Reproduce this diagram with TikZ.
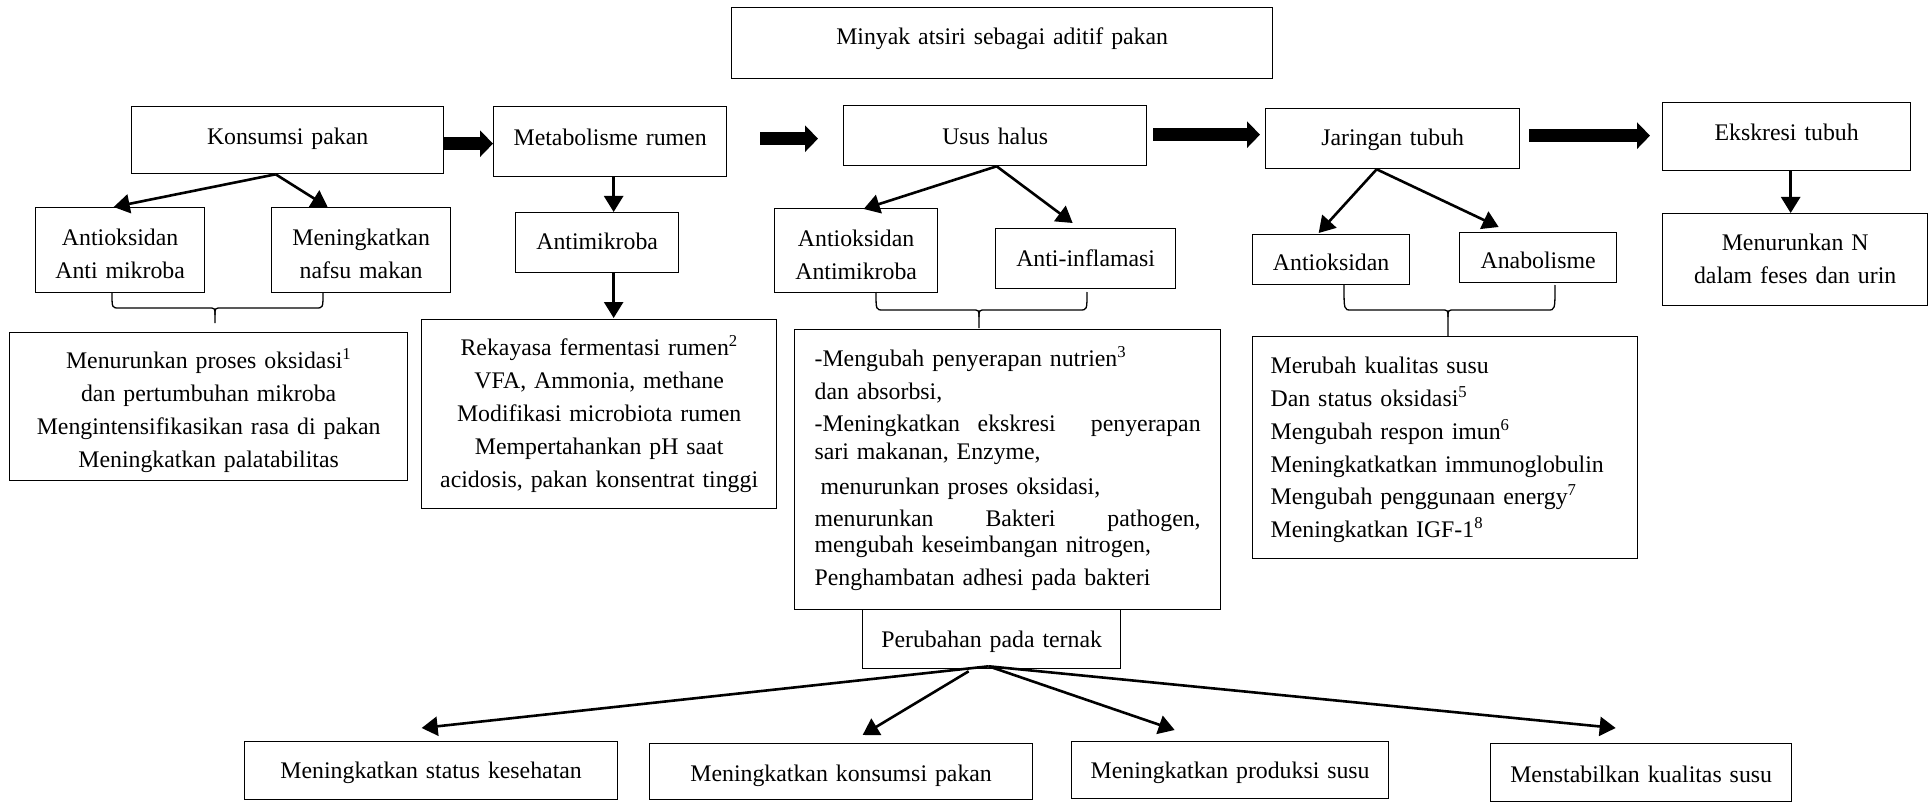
\documentclass[tikz,border=0pt]{standalone}
\usepackage{fontspec}
\setmainfont{Liberation Serif}
\usetikzlibrary{arrows.meta,calc}
\newcommand\supr[1]{\textsuperscript{#1}}
% name, x-left, y-top, text width, text height, text depth, extra options, text
\newcommand\mkbox[8]{\node[bx,text width=#4pt,text height=#5pt,text depth=#6pt,#7] (#1) at (#2,#3) {#8};}
% x1, x2, xtip, ytop, ybottom, ytip
\newcommand\mybrace[6]{%
  \draw[brc] (#1,#4) .. controls (#1,#5) .. (#1+7,#5) -- (#3-7,#5) .. controls (#3,#5) .. (#3,#5+7) -- (#3,#6);
  \draw[brc] (#2,#4) .. controls (#2,#5) .. (#2-7,#5) -- (#3+7,#5) .. controls (#3,#5) .. (#3,#5+7);}
\begin{document}
\begin{tikzpicture}[x=1pt,y=-1pt,
  every node/.style={font=\fontsize{23.8}{33}\selectfont},
  bx/.style={draw,line width=1.3pt,inner sep=0pt,anchor=north west,align=center},
  thin/.style={line width=2.6pt,-{Triangle[length=16pt,width=19pt]}},
  fat/.style={line width=12.5pt,-{Triangle[length=13pt,width=26pt]}},
  brc/.style={line width=1.3pt}]
\useasboundingbox (0,0) rectangle (1929,802);
\fill[white] (0,0) rectangle (1929,802);

% top row
\mkbox{minyak}{731}{7}{541}{37}{34}{}{Minyak atsiri sebagai aditif pakan}
\mkbox{kons}{131}{106}{312}{38}{29}{}{Konsumsi pakan}
\mkbox{metab}{493}{106}{233}{39}{31}{}{Metabolisme rumen}
\mkbox{usus}{843}{105}{303}{39}{21}{}{Usus halus}
\mkbox{jar}{1265}{108}{254}{37}{23}{}{Jaringan tubuh}
\mkbox{eks}{1662}{102}{248}{38}{30}{}{Ekskresi tubuh}

% second row
\mkbox{aa1}{35}{207}{169}{38}{47}{}{Antioksidan\\Anti mikroba}
\mkbox{nafsu}{271}{207}{179}{38}{47}{}{Meningkatkan\\nafsu makan}
\mkbox{antim}{515}{212}{163}{37}{23}{}{Antimikroba}
\mkbox{aa2}{774}{208}{163}{37.5}{46.5}{}{Antioksidan\\Antimikroba}
\mkbox{antiinf}{995}{228}{180}{38}{22}{}{Anti-inflamasi}
\mkbox{ant3}{1252}{234}{157}{36}{14}{}{Antioksidan}
\mkbox{anab}{1459}{232}{157}{36}{14}{}{Anabolisme}
\mkbox{menN}{1662}{213}{265}{37}{55}{}{Menurunkan N\\dalam feses dan urin}

% third row
\mkbox{menur}{9}{332}{398}{36}{112}{}{Menurunkan proses oksidasi\supr{1}\\dan pertumbuhan mikroba\\Mengintensifikasikan rasa di pakan\\Meningkatkan palatabilitas}
\mkbox{rekay}{421}{319}{355}{36}{153}{}{Rekayasa fermentasi rumen\supr{2}\\VFA, Ammonia, methane\\Modifikasi microbiota rumen\\Mempertahankan pH saat\\acidosis, pakan konsentrat tinggi}
\mkbox{usbig}{794}{329}{386}{36.5}{243.5}{align=left,inner xsep=20pt,font=\fontsize{23.8}{26.5}\selectfont}{%
-Mengubah penyerapan nutrien\supr{3}\\[7pt]
dan absorbsi,\\[5.5pt]
\makebox[386pt][l]{-Meningkatkan\hfill ekskresi\hfill\hfill penyerapan}\\[1pt]
sari makanan, Enzyme,\\[9pt]
\hspace*{6pt}menurunkan proses oksidasi,\\[5.5pt]
\makebox[386pt][l]{menurunkan\hfill Bakteri\hfill pathogen,}\\[-1pt]
mengubah keseimbangan nitrogen,\\[7pt]
Penghambatan adhesi pada bakteri}
\mkbox{jarbig}{1252}{336}{349}{37}{185}{align=left,inner xsep=18pt,font=\fontsize{23.8}{32.8}\selectfont}{%
Merubah kualitas susu\\Dan status oksidasi\supr{5}\\Mengubah respon imun\supr{6}\\Meningkatkatkan immunoglobulin\\Mengubah penggunaan energy\supr{7}\\Meningkatkan IGF-1\supr{8}}

% bottom
\mkbox{perub}{862}{609}{258}{38}{21}{}{Perubahan pada ternak}
\mkbox{status}{244}{741}{373}{37}{21}{}{Meningkatkan status kesehatan}
\mkbox{kons2}{649}{743}{383}{38}{18}{}{Meningkatkan konsumsi pakan}
\mkbox{prod}{1071}{741}{317}{37}{20}{}{Meningkatkan produksi susu}
\mkbox{menst}{1490}{743}{301}{39}{19}{}{Menstabilkan kualitas susu}

% thick arrows
\draw[fat] ($(kons.east)+(0,3.5)$) -- ($(metab.west)+(0,2)$);
\draw[fat] ($(metab.east)+(33,-3)$) -- ($(usus.west)+(-25,3)$);
\draw[fat] ($(usus.east)+(6,-1)$) -- ($(jar.west)+(-5,-4)$);
\draw[fat] ($(jar.east)+(9,-3)$) -- ($(eks.west)+(-12,-1)$);

% thin arrows
\draw[thin] ($(kons.south)+(-12,0)$) -- ($(aa1.north)+(-6.5,0)$);
\draw[thin] ($(kons.south)+(-12,0)$) -- ($(nafsu.north)+(-33.5,0)$);
\draw[thin] ($(metab.south)+(3.5,0)$) -- ($(antim.north)+(16.5,0)$);
\draw[thin] ($(antim.south)+(16.5,0)$) -- ($(rekay.north)+(14.5,-1)$);
\draw[thin] ($(usus.south)+(1.5,0)$) -- ($(aa2.north)+(7.5,1)$);
\draw[thin] ($(usus.south)+(1.5,0)$) -- ($(antiinf.north)+(-13,-5)$);
\draw[thin] ($(jar.south)+(-16,0)$) -- ($(ant3.north)+(-12.5,-1)$);
\draw[thin] ($(jar.south)+(-16,0)$) -- ($(anab.north)+(-39.5,-5)$);
\draw[thin] ($(eks.south)+(4,0)$) -- ($(menN.north)+(-4.5,0)$);
\draw[thin] ($(perub.south)+(-3,-3)$) -- ($(status.north)+(-9.5,-13)$);
\draw[thin] ($(perub.south)+(-23,2)$) -- ($(kons2.north)+(21.5,-8)$);
\draw[thin] ($(perub.south)+(-3,-3)$) -- ($(prod.north)+(-55.5,-11)$);
\draw[thin] ($(perub.south)+(-3,-3)$) -- ($(menst.north)+(-25.5,-15)$);

% braces
\mybrace{112}{323}{215}{293}{308}{323}
\mybrace{876}{1087}{979}{292}{310}{328}
\mybrace{1344}{1555}{1448}{285}{310}{336}
\end{tikzpicture}
\end{document}
